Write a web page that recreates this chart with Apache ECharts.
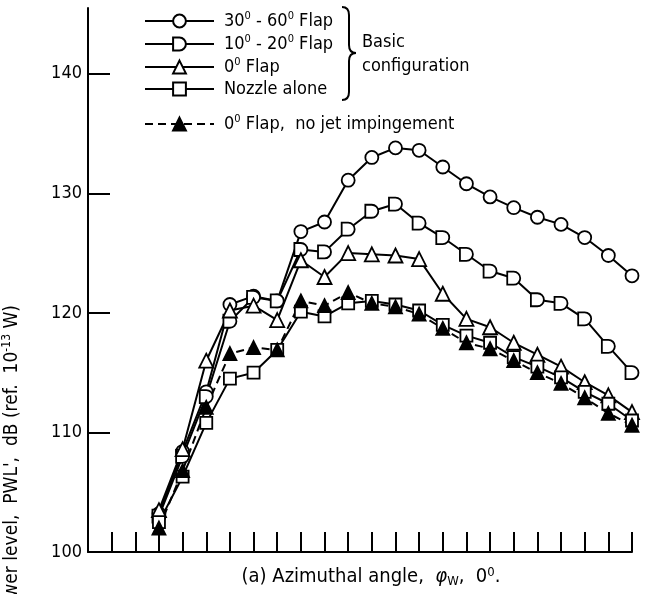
<!DOCTYPE html>
<html>
<head>
<meta charset="utf-8">
<script src="https://cdn.jsdelivr.net/npm/echarts@6/dist/echarts.min.js"></script>
<style>
html,body{margin:0;padding:0;background:#fff;}
#chart{width:645px;height:594px;}
</style>
</head>
<body>
<div id="chart"></div>
<script>
// ---- data ----
// x positions: tick index along the azimuth-angle axis (unlabelled in the original)
var tickPositions = [0,1,2,3,4,5,6,7,8,9,10,11,12,13,14,15,16,17,18,19,20,21,22];
var pointPositions = [2,3,4,5,6,7,8,9,10,11,12,13,14,15,16,17,18,19,20,21,22];
var yTickValues = [100,110,120,130,140];

var flap30_60 = [103.2,108.4,113.4,120.7,121.4,121.0,126.8,127.6,131.1,133.0,133.8,133.6,132.2,130.8,129.7,128.8,128.0,127.4,126.3,124.8,123.1];
var flap10_20 = [103.0,108.0,113.0,119.3,121.3,121.0,125.3,125.1,127.0,128.5,129.1,127.5,126.3,124.9,123.5,122.9,121.1,120.8,119.5,117.2,115.0];
var flap0     = [103.5,108.6,116.0,120.2,120.6,119.4,124.4,123.0,125.0,124.9,124.8,124.5,121.6,119.5,118.8,117.5,116.5,115.5,114.2,113.1,111.7];
var nozzleAlone = [102.5,106.3,110.8,114.5,115.0,116.9,120.1,119.7,120.8,121.0,120.7,120.2,119.0,118.1,117.5,116.3,115.5,114.6,113.4,112.4,111.0];
var flap0NoJet  = [102.0,106.8,112.1,116.6,117.1,116.9,121.0,120.6,121.7,120.8,120.5,119.9,118.7,117.5,117.0,116.0,115.0,114.1,112.9,111.6,110.6];

var seriesNames = ['30-60 Flap','10-20 Flap','0 Flap','Nozzle alone','0 Flap, no jet impingement'];
var legendRich = {
  '30-60 Flap': '{n|30}{s|0}{n| - 60}{s|0}{n| Flap}',
  '10-20 Flap': '{n|10}{s|0}{n| - 20}{s|0}{n| Flap}',
  '0 Flap': '{n|0}{s|0}{n| Flap}',
  'Nozzle alone': '{n|Nozzle alone}',
  '0 Flap, no jet impingement': '{n|0}{s|0}{n| Flap,  no jet impingement}'
};

var FONT = '"Liberation Sans Narrow", "DejaVu Sans Condensed", "Roboto Condensed", "Liberation Sans", sans-serif';

function pairs(vals){
  return vals.map(function(v,i){ return [pointPositions[i], v]; });
}

var D_SYMBOL = 'path://M0,0 L10,0 A10,10 0 0 1 10,20 L0,20 Z';

function mkSeries(name, vals, symbol, size, filled, dashed){
  return {
    name: name, type: 'line', data: pairs(vals),
    symbol: symbol, symbolSize: size, showAllSymbol: true,
    lineStyle: {color:'#000', width: 2, type: dashed ? [8,5] : 'solid'},
    itemStyle: {color: filled ? '#000' : '#fff', borderColor:'#000', borderWidth: 1.8},
    emphasis: {disabled: true},
    animation: false
  };
}

var richText = {
  n: {fontFamily: FONT, fontSize: 18, color:'#000', lineHeight: 20},
  s: {fontFamily: FONT, fontSize: 11, color:'#000', lineHeight: 11, verticalAlign:'top'}
};

var legendBase = {
  orient: 'vertical', left: 139, itemWidth: 69, itemHeight: 16,
  selectedMode: false,
  formatter: function(name){ return legendRich[name]; },
  textStyle: {fontFamily: FONT, fontSize: 18, color:'#000', padding:[0,0,0,5], rich: richText}
};

var braceStyle = {fill:'none', stroke:'#000', lineWidth: 2};

var chart = echarts.init(document.getElementById('chart'), null, {renderer:'canvas'});
chart.setOption({
  backgroundColor: '#fff',
  animation: false,
  grid: {left: 88, right: 13, top: 8, bottom: 42, containLabel: false},
  xAxis: {
    type: 'value', min: -1, max: 22,
    axisLine: {show: true, onZero: false, lineStyle: {color:'#000', width: 2}},
    axisTick: {show: true, inside: true, length: 20, customValues: tickPositions, lineStyle:{color:'#000', width: 2}},
    axisLabel: {show: false},
    splitLine: {show: false}
  },
  yAxis: {
    type: 'value', min: 100, max: 145.5,
    axisLine: {show: true, onZero: false, lineStyle: {color:'#000', width: 2}},
    axisTick: {show: true, inside: true, length: 22, customValues: yTickValues, lineStyle:{color:'#000', width: 2}},
    axisLabel: {show: true, customValues: yTickValues, fontFamily: FONT, fontSize: 18, color:'#000', margin: 6},
    splitLine: {show: false}
  },
  legend: [
    Object.assign({}, legendBase, {data: seriesNames.slice(0,4), top: 6, itemGap: 4}),
    Object.assign({}, legendBase, {data: seriesNames.slice(4), top: 109})
  ],
  series: [
    mkSeries(seriesNames[0], flap30_60, 'circle', 13, false, false),
    mkSeries(seriesNames[1], flap10_20, D_SYMBOL, 13, false, false),
    mkSeries(seriesNames[2], flap0, 'triangle', 14, false, false),
    mkSeries(seriesNames[3], nozzleAlone, 'rect', 12, false, false),
    mkSeries(seriesNames[4], flap0NoJet, 'triangle', 13, true, true)
  ],
  graphic: [
    {type:'bezierCurve', shape:{x1:342,y1:7,x2:349,y2:15,cpx1:349,cpy1:7}, style:braceStyle},
    {type:'line', shape:{x1:349,y1:15,x2:349,y2:45}, style:braceStyle},
    {type:'bezierCurve', shape:{x1:349,y1:45,x2:356,y2:53,cpx1:349,cpy1:53}, style:braceStyle},
    {type:'bezierCurve', shape:{x1:356,y1:53,x2:349,y2:61,cpx1:349,cpy1:53}, style:braceStyle},
    {type:'line', shape:{x1:349,y1:61,x2:349,y2:92}, style:braceStyle},
    {type:'bezierCurve', shape:{x1:349,y1:92,x2:342,y2:100,cpx1:349,cpy1:100}, style:braceStyle},
    {type:'text', left: 362, top: 33, style:{text:'Basic', font:'18px ' + FONT, fill:'#000'}},
    {type:'text', left: 362, top: 57, style:{text:'configuration', font:'18px ' + FONT, fill:'#000'}},
    {type:'text', x: 371, y: 577,
     style:{text:'{n|(a) Azimuthal angle,  }{i|φ}{sub|W}{n|,  0}{s|0}{n|.}', align:'center', verticalAlign:'middle',
       rich:{
         n:{fontFamily: FONT, fontSize: 20, fill:'#000', lineHeight: 22},
         i:{fontFamily: FONT, fontSize: 20, fontStyle:'italic', fill:'#000', lineHeight: 22},
         sub:{fontFamily: FONT, fontSize: 13, fill:'#000', lineHeight: 13, verticalAlign:'bottom'},
         s:{fontFamily: FONT, fontSize: 13, fill:'#000', lineHeight: 13, verticalAlign:'top'}
       }}},
    {type:'text', x: 12, y: 305, rotation: Math.PI/2,
     style:{text:"{n|wer level,  PWL',  dB (ref.  10}{s|-13}{n| W)}", align:'right', verticalAlign:'middle',
       rich:{
         n:{fontFamily: FONT, fontSize: 19, fill:'#000', lineHeight: 22},
         s:{fontFamily: FONT, fontSize: 12, fill:'#000', lineHeight: 12, verticalAlign:'top'}
       }}}
  ]
});
</script>
</body>
</html>
